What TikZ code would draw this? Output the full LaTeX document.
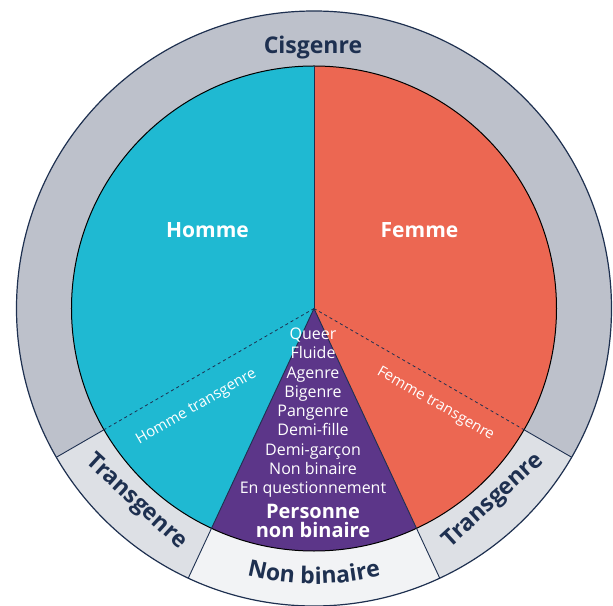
\documentclass[tikz,border=0pt]{standalone}
\usepackage{fontspec}
\setmainfont{Open Sans}
\usetikzlibrary{decorations.text}

\definecolor{hommecyan}{RGB}{31,185,210}
\definecolor{femmeorange}{RGB}{236,103,82}
\definecolor{nbpurple}{RGB}{92,54,137}
\definecolor{cisgrey}{RGB}{189,193,203}
\definecolor{transgrey}{RGB}{221,224,229}
\definecolor{nbgrey}{RGB}{242,243,245}
\definecolor{navy}{RGB}{30,48,80}

\newcommand\ringR{297.5}
\newcommand\pieR{242.5}

\begin{document}
\begin{tikzpicture}[x=1pt,y=1pt,
  edge/.style={draw=navy,line width=0.9pt},
  ringlabel/.style={text=navy,inner sep=0pt,font=\fontsize{23}{23}\selectfont\bfseries},
  pielabel/.style={text=white,inner sep=0pt,font=\fontsize{21}{21}\selectfont\bfseries},
  translabel/.style={text=white,inner sep=0pt,font=\fontsize{15}{15}\selectfont}]

\useasboundingbox (-314,-296.5) rectangle (299,308.5);
\coordinate (c) at (0,0);

% outer ring
\fill[cisgrey] (c) -- (-30:\ringR) arc[start angle=-30,end angle=210,radius=\ringR] -- cycle;
\fill[transgrey] (c) -- (210:\ringR) arc[start angle=210,end angle=245,radius=\ringR] -- cycle;
\fill[transgrey] (c) -- (295:\ringR) arc[start angle=295,end angle=330,radius=\ringR] -- cycle;
\fill[nbgrey] (c) -- (245:\ringR) arc[start angle=245,end angle=295,radius=\ringR] -- cycle;

% inner pie
\fill[hommecyan] (c) -- (90:\pieR) arc[start angle=90,end angle=245,radius=\pieR] -- cycle;
\fill[femmeorange] (c) -- (-65:\pieR) arc[start angle=-65,end angle=90,radius=\pieR] -- cycle;
\fill[nbpurple] (c) -- (245:\pieR) arc[start angle=245,end angle=295,radius=\pieR] -- cycle;

% borders
\draw[navy,line width=1.2pt] (c) circle[radius=\ringR];
\draw[black,line width=1pt] (c) circle[radius=\pieR];
\foreach \a in {210,245,295,330}
  \draw[edge] (\a:\pieR) -- (\a:\ringR);
\foreach \a in {90,245,295}
  \draw[edge] (c) -- (\a:\pieR);
\foreach \a in {210,330}
  \draw[edge,dashed,line width=0.8pt] (c) -- (\a:\pieR);

% ring labels
\node[ringlabel,anchor=base] (cis) at (-1,255.2) {Cisgenre};
\node[ringlabel,rotate=-42.5] (transL) at (-178,-193.5) {Transgenre};
\node[ringlabel,rotate=42.5] (transR) at (179.5,-192.5) {Transgenre};
\path[decorate,decoration={text along path,text align=center,
  text={|\fontsize{23}{23}\selectfont\bfseries\color{navy}|Non binaire}}]
  (250:275.5) arc[start angle=250,end angle=290,radius=275.5];

% pie labels
\node[pielabel,anchor=base] (homme) at (-106.5,71.2) {Homme};
\node[pielabel,anchor=base] (femme) at (105.5,71.2) {Femme};
\node[translabel,rotate=30] (hommeT) at (-117.5,-98.5) {Homme transgenre};
\node[translabel,rotate=-30] (femmeT) at (121.5,-95.5) {Femme transgenre};

% non binary list
\node[text=white,inner sep=0pt,anchor=north,align=center,
  font=\fontsize{16}{19.25}\selectfont] (liste) at (-1,-19.2)
  {Queer\\Fluide\\Agenre\\Bigenre\\Pangenre\\Demi-fille\\Demi-garçon\\Non binaire\\En questionnement};
\node[text=white,inner sep=0pt,anchor=north,align=center,
  font=\fontsize{20}{19.5}\selectfont\bfseries] (nb) at (-1,-195.5)
  {Personne\\non binaire};

\end{tikzpicture}
\end{document}
